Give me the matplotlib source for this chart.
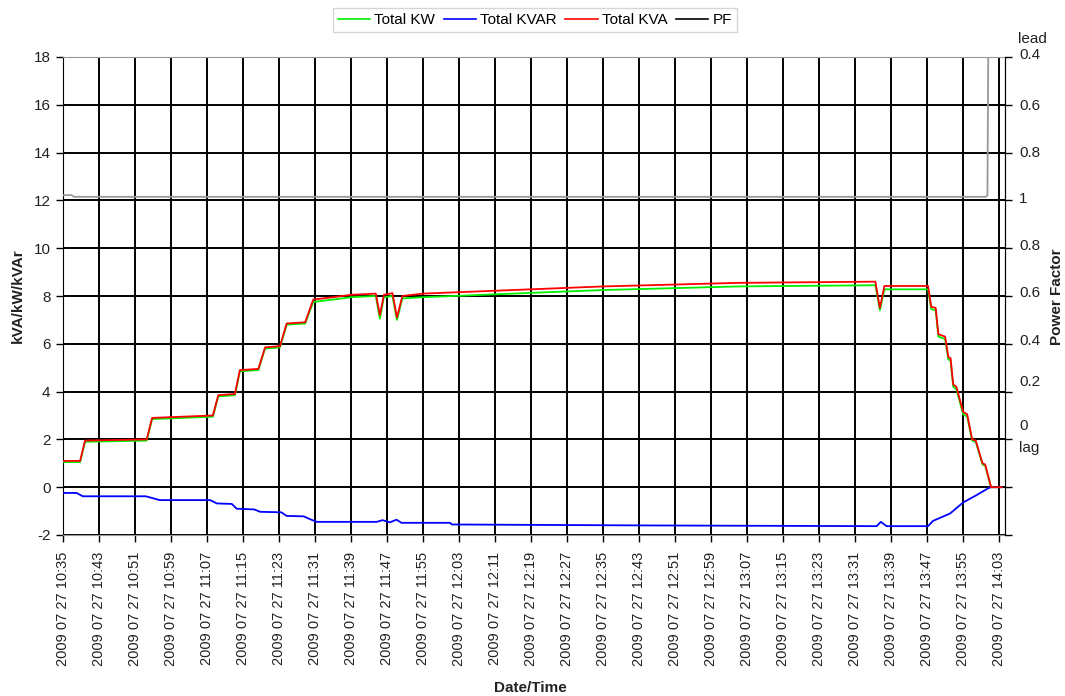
import matplotlib
matplotlib.use("Agg")
import matplotlib.pyplot as plt
from matplotlib.lines import Line2D

plt.rcParams['font.family'] = ['Liberation Sans', 'DejaVu Sans']
plt.rcParams['axes.unicode_minus'] = False

# x values are minutes after 2009 07 27 10:35
tick_times = ["10:35", "10:43", "10:51", "10:59", "11:07", "11:15", "11:23",
              "11:31", "11:39", "11:47", "11:55", "12:03", "12:11", "12:19",
              "12:27", "12:35", "12:43", "12:51", "12:59", "13:07", "13:15",
              "13:23", "13:31", "13:39", "13:47", "13:55", "14:03"]

t_power = [0, 3.8, 4.9, 18.6, 19.8, 33.3, 34.5, 38.2, 39.3, 43.4,
           44.9, 48.2, 49.7, 53.8, 55.6, 60, 64, 69.5, 70.4, 71.3,
           73.2, 74.2, 75.4, 80, 100, 120, 150, 180.5, 181.5, 182.5,
           192.2, 192.9, 193.9, 194.5, 196.0, 196.7, 197.2, 197.8, 198.5, 200.0,
           200.9, 202.0, 202.8, 204.3, 204.9, 206.2, 208.6]
total_kva = [1.1, 1.1, 1.95, 2.0, 2.9, 3.0, 3.85, 3.9, 4.9, 4.95,
             5.85, 5.9, 6.85, 6.9, 7.85, 7.95, 8.05, 8.1, 7.2, 8.05,
             8.12, 7.1, 8.0, 8.1, 8.25, 8.4, 8.55, 8.6, 7.5, 8.42,
             8.42, 7.55, 7.5, 6.4, 6.3, 5.45, 5.4, 4.3, 4.2, 3.15,
             3.05, 2.0, 1.95, 1.0, 0.95, 0.0, 0.0]
total_kw = [1.05, 1.05, 1.9, 1.95, 2.85, 2.95, 3.8, 3.85, 4.85, 4.9,
            5.8, 5.85, 6.8, 6.85, 7.75, 7.85, 7.95, 8.0, 7.05, 7.95,
            8.0, 7.0, 7.9, 7.95, 8.1, 8.25, 8.4, 8.45, 7.4, 8.28,
            8.28, 7.45, 7.4, 6.3, 6.2, 5.35, 5.3, 4.2, 4.1, 3.05,
            2.95, 1.95, 1.9, 0.95, 0.9, 0.0, 0.0]

t_kvar = [0, 3, 4.4, 18.4, 21.5, 32.7, 34.2, 37.5, 38.6, 42.5,
          43.8, 48.5, 49.7, 53.5, 54.9, 56.4, 69.7, 71, 72.6, 74.1,
          75.2, 86, 86.4, 130, 180.8, 181.7, 183, 192.2, 193.3, 197.1,
          200, 203, 205.6, 206.2, 208.6]
total_kvar = [-0.24, -0.24, -0.38, -0.38, -0.54, -0.54, -0.68, -0.7, -0.9, -0.93,
              -1.03, -1.05, -1.2, -1.22, -1.34, -1.45, -1.45, -1.38, -1.47, -1.36,
              -1.49, -1.49, -1.56, -1.6, -1.63, -1.45, -1.63, -1.63, -1.41, -1.1,
              -0.64, -0.33, -0.04, 0.0, 0.0]

# power factor (leading)
t_pf = [0, 1.9, 2.4, 205.0, 205.4, 205.6, 208.6]
pf_lead = [0.978, 0.978, 0.985, 0.985, 0.98, 0.3, 0.3]

pf_tick_labels = ["0.4", "0.6", "0.8", "1", "0.8", "0.6", "0.4", "0.2", "0"]
# pixel rows of the right-hand labels, as the reference draws them
pf_label_rows = [55, 106, 153, 199, 246, 293, 341, 382, 426]


def pf_to_axis(pf):
    # unity sits on 12, each 0.2 of leading PF is 2 units up
    return 12 + (1 - pf) * 10


def main():
    fig = plt.figure(figsize=(10.65, 6.96), dpi=100)
    ax = fig.add_axes([63 / 1065, 1 - 535 / 696, 942 / 1065, 478 / 696])

    ax.plot(t_power, total_kw, color='#00ee00', lw=1.3, zorder=3)
    ax.plot(t_kvar, total_kvar, color='#0000ff', lw=1.3, zorder=3)
    ax.plot(t_power, total_kva, color='#ff0000', lw=1.3, zorder=4)
    ax.plot(t_pf, [pf_to_axis(p) for p in pf_lead], color='#999999', lw=1.3, zorder=3)

    ax.set_xlim(0, 209.3)
    ax.set_ylim(-2, 18)
    ax.set_yticks(range(-2, 19, 2))
    ax.set_xticks([i * 8 for i in range(len(tick_times))])
    ax.set_xticklabels(["2009 07 27 " + s for s in tick_times], rotation=90,
                       fontsize=10.5, color='#222222')
    ax.tick_params(axis='x', length=5, width=1, pad=7)
    ax.tick_params(axis='y', length=5, width=1, pad=4, labelsize=11, labelcolor='#222222')
    ax.grid(True, color='black', lw=1.4)
    ax.set_axisbelow(True)
    ax.spines['top'].set_color('#999999')
    ax.spines['bottom'].set_color('#999999')
    ax.spines['right'].set_color('black')

    ax2 = ax.twinx()
    ax2.set_ylim(-2, 18)
    ax2.set_yticks(range(-2, 19, 2))
    ax2.set_yticklabels([])
    ax2.tick_params(axis='y', length=5, width=1)
    ax2.spines['top'].set_visible(False)
    ax2.spines['bottom'].set_visible(False)
    ax2.spines['left'].set_visible(False)

    for lab, row in zip(pf_tick_labels, pf_label_rows):
        fig.text(1019 / 1065, 1 - row / 696, lab, fontsize=11, color='#222222', va='center')
    fig.text(1018 / 1065, 1 - 39 / 696, "lead", fontsize=11, color='#222222', va='center')
    fig.text(1019 / 1065, 1 - 448 / 696, "lag", fontsize=11, color='#222222', va='center')

    fig.text(18 / 1065, 1 - 296 / 696, "kVA/kW/kVAr", rotation=90, fontsize=11,
             fontweight='bold', ha='center', va='center', color='#222222')
    fig.text(1057 / 1065, 1 - 297 / 696, "Power Factor", rotation=90, fontsize=11,
             fontweight='bold', ha='center', va='center', color='#222222')
    fig.text(530 / 1065, 1 - 688 / 696, "Date/Time", fontsize=11,
             fontweight='bold', ha='center', va='center', color='#222222')

    handles = [Line2D([], [], color='#00ee00', lw=1.2),
               Line2D([], [], color='#0000ff', lw=1.2),
               Line2D([], [], color='#ff0000', lw=1.2),
               Line2D([], [], color='black', lw=1.2)]
    leg = fig.legend(handles, ["Total KW", "Total KVAR", "Total KVA", "PF"],
                     loc='center', bbox_to_anchor=(535 / 1065, 1 - 20 / 696), ncol=4,
                     fontsize=11, frameon=True, fancybox=False, handlelength=2.1,
                     handletextpad=0.3, columnspacing=0.55, borderpad=0.3)
    leg.get_frame().set_edgecolor('#cccccc')
    leg.get_frame().set_linewidth(1.0)

    fig.savefig("out.png", dpi=100)


if __name__ == "__main__":
    main()
